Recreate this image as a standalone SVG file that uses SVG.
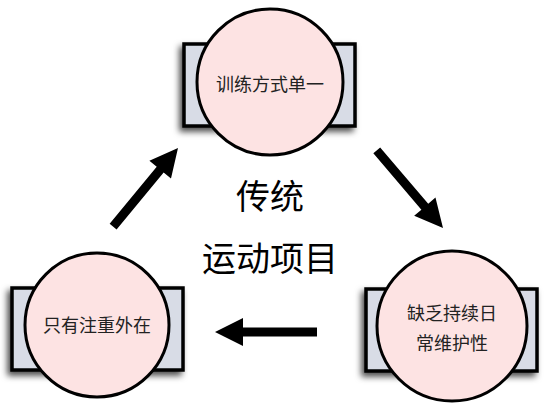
<svg xmlns="http://www.w3.org/2000/svg" xmlns:xlink="http://www.w3.org/1999/xlink" width="550" height="403" viewBox="0 0 550 403">
<style>
.box{fill:#d8dce6;stroke:#000;stroke-width:3.5;filter:url(#sh)}
.circ{fill:#fde3e3;stroke:#000;stroke-width:3}
.lbl{font-family:"Noto Sans CJK SC","Noto Sans",sans-serif;font-size:18px;fill:#222;text-anchor:middle}
.big{font-family:"Noto Sans CJK SC","Noto Sans",sans-serif;font-size:34px;fill:#000;text-anchor:middle}
.arr{fill:#000}
</style>
<defs>
<filter id="sh" x="-20%" y="-30%" width="140%" height="160%">
<feDropShadow dx="-3" dy="4" stdDeviation="3" flood-color="#000" flood-opacity="0.7"/>
</filter>
<polygon id="arrow" points="-102,-4.5 -28,-4.5 -28,-14 0,0 -28,14 -28,4.5 -102,4.5"/>
</defs>
<rect width="550" height="403" fill="#fff"/>
<g id="connectors" class="arr">
<use xlink:href="#arrow" href="#arrow" transform="translate(178,148) rotate(-50.5)"/>
<use xlink:href="#arrow" href="#arrow" transform="translate(443,228) rotate(49.5)"/>
<use xlink:href="#arrow" href="#arrow" transform="translate(215,332) rotate(180)"/>
</g>
<g id="node-top">
<rect class="box" x="184" y="44" width="171" height="82"/>
<circle class="circ" cx="270" cy="82" r="73"/>
<text class="lbl" x="270" y="91">训练方式单一</text>
</g>
<g id="node-left">
<rect class="box" x="12" y="288" width="171" height="82"/>
<circle class="circ" cx="97" cy="325" r="72"/>
<text class="lbl" x="97" y="332">只有注重外在</text>
</g>
<g id="node-right">
<rect class="box" x="366" y="289" width="171" height="82"/>
<circle class="circ" cx="452" cy="326" r="75"/>
<text class="lbl" x="452" y="320">缺乏持续日</text>
<text class="lbl" x="452" y="350">常维护性</text>
</g>
<g id="title">
<text class="big" x="270" y="209">传统</text>
<text class="big" x="270" y="271">运动项目</text>
</g>
</svg>
